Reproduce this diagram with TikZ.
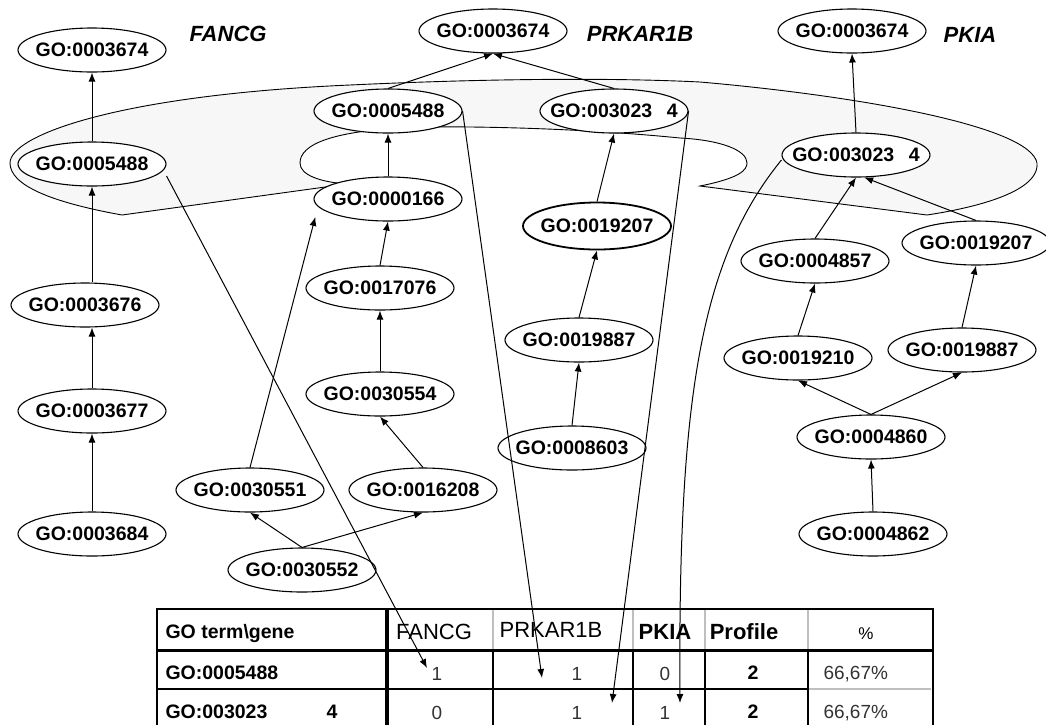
\documentclass[tikz,border=0pt]{standalone}
\usepackage{fontspec}
\setmainfont{Liberation Sans}
\usetikzlibrary{arrows.meta,shapes.geometric,calc}
\begin{document}
\begin{tikzpicture}[x=1pt,y=-1pt,
  go/.style={draw, ellipse, fill=white, line width=1.1pt, minimum width=148pt, minimum height=44pt, inner xsep=-16pt, inner ysep=0pt, font=\fontsize{19.5}{21}\selectfont\bfseries},
  arr/.style={line width=1pt, -{Latex[length=9pt,width=7pt]}},
  gene/.style={font=\fontsize{22}{24}\selectfont\bfseries\itshape},
  thl/.style={anchor=west, font=\fontsize{19.5}{21}\selectfont\bfseries},
  thg/.style={font=\fontsize{22}{24}\selectfont},
  thb/.style={font=\fontsize{22}{24}\selectfont\bfseries},
  cell/.style={font=\fontsize{19}{21}\selectfont, text=black!80},
  cellb/.style={font=\fontsize{19.5}{21}\selectfont\bfseries},
  pct/.style={anchor=west, font=\fontsize{19}{21}\selectfont, text=black!80}
]
\clip (0,0) rectangle (1046,724);

% shaded region
\path[draw, fill=black!3, line width=0.9pt]
  (122,215) .. controls (50,202) and (10,185) .. (10,163)
  .. controls (10,135) and (120,95) .. (350,85)
  .. controls (500,78) and (620,78) .. (700,82)
  .. controls (850,95) and (1030,125) .. (1037,163)
  .. controls (1040,195) and (960,210) .. (927,215)
  -- (700,186)
  .. controls (740,178) and (747,170) .. (747,163)
  .. controls (747,150) and (720,140) .. (680,138)
  .. controls (600,130) and (500,126) .. (420,127)
  .. controls (330,130) and (300,145) .. (300,163)
  .. controls (300,175) and (320,182) .. (347,184)
  -- cycle;

% gene labels
\node[gene] (gf) at (228,34) {FANCG};
\node[gene] (gp) at (640,34) {PRKAR1B};
\node[gene] (gk) at (970,35) {PKIA};

% FANCG
\node[go] (f3674) at (92,50) {GO:0003674};
\node[go] (f5488) at (92,164) {GO:0005488};
\node[go] (f3676) at (85,305) {GO:0003676};
\node[go] (f3677) at (92,411) {GO:0003677};
\node[go] (f3684) at (92,534) {GO:0003684};

% PRKAR1B
\node[go] (p3674) at (493,31) {GO:0003674};
\node[go] (p5488) at (388,111) {GO:0005488};
\node[go] (p0234) at (614,111) {GO:003023\hspace{0.75em}4};
\node[go] (p0166) at (388,199) {GO:0000166};
\node[go, line width=1.8pt, minimum height=47pt] (p9207) at (597,226) {GO:0019207};
\node[go] (p7076) at (380,288) {GO:0017076};
\node[go] (p0554) at (380,394) {GO:0030554};
\node[go] (p0551) at (250,490) {GO:0030551};
\node[go] (p6208) at (423,490) {GO:0016208};
\node[go] (p0552) at (302,570) {GO:0030552};
\node[go] (p9887) at (579,340) {GO:0019887};
\node[go] (p8603) at (572,448) {GO:0008603};

% PKIA
\node[go] (k3674) at (852,31) {GO:0003674};
\node[go] (k0234) at (856,155) {GO:003023\hspace{0.75em}4};
\node[go] (k9207) at (976,243) {GO:0019207};
\node[go] (k4857) at (815,261) {GO:0004857};
\node[go] (k9210) at (798,358) {GO:0019210};
\node[go] (k9887) at (962,350) {GO:0019887};
\node[go] (k4860) at (871,437) {GO:0004860};
\node[go] (k4862) at (873,534) {GO:0004862};

% FANCG edges
\draw[arr] (f3684.north) -- (f3684.north |- f3677.south);
\draw[arr] (f3677.north) -- (f3677.north |- f3676.south);
\draw[arr] (f3677.north |- f3676.north) -- (f3677.north |- f5488.south);
\draw[arr] (f5488.north) -- (f3674.south);

% PRKAR1B edges
\draw[arr] (p5488.north) -- (p3674.south);
\draw[arr] (p0234.north) -- (p3674.south);
\draw[arr] (p0166.north) -- (p5488.south);
\draw[arr] (p7076.north) -- (p0166.south);
\draw[arr] (p0554.north) -- (p7076.south);
\draw[arr] (p6208.north) -- (p0554.south);
\draw[arr] (p0552.north) -- (p0551.south);
\draw[arr] (p0552.north) -- (p6208.south);
\draw[arr] (p0551.north) -- ([shift={(-20pt,-2pt)}]p0166.south west);
\draw[arr] (p9207.north) -- (p0234.south);
\draw[arr] (p9887.north) -- (p9207.south);
\draw[arr] (p8603.north) -- (p9887.south);

% PKIA edges
\draw[arr] (k0234.north) -- (k3674.south);
\draw[arr] (k4857.north) -- (k0234.south);
\draw[arr] (k9207.north) -- (k0234.-70);
\draw[arr] (k9210.north) -- (k4857.south);
\draw[arr] (k9887.north) -- (k9207.south);
\draw[arr] (k4860.north) -- (k9210.south);
\draw[arr] (k4860.north) -- (k9887.south);
\draw[arr] (k4862.north) -- (k4860.south);

% table
\draw[line width=2.2pt] (157,740) -- (157,609) -- (933,609) -- (933,740);
\draw[line width=3pt] (157,650) -- (933,650);
\draw[line width=3.5pt] (387,609) -- (387,740);
\draw[line width=1.2pt] (157,689) -- (808,689);
\draw[line width=1.2pt, black!25] (808,689) -- (931,689);
\foreach \x in {493,633,705,808} {
  \draw[black!25, line width=1.2pt] (\x,610) -- (\x,649);
}
\foreach \x in {493,633,705} {
  \draw[line width=1.3pt] (\x,650) -- (\x,740);
}
\draw[line width=2pt] (808,650) -- (808,740);

\node[thl] (h0) at (162,633) {GO term\textbackslash gene};
\node[thg] (h1) at (434,632) {FANCG};
\node[thg] (h2) at (551,630) {PRKAR1B};
\node[thb] (h3) at (665,632) {PKIA};
\node[thb] (h4) at (744,632) {Profile};
\node[font=\fontsize{17}{19}\selectfont] (h5) at (866,634) {\%};

\node[thl] (r1) at (162,673) {GO:0005488};
\node[cell] (r1a) at (437,674) {1};
\node[cell] (r1b) at (577,674) {1};
\node[cell] (r1c) at (665,674) {0};
\node[cellb] (r1d) at (753,673) {2};
\node[pct] (r1e) at (820,674) {66,67\%};

\node[thl] (r2) at (162,712) {GO:003023};
\node[cellb] (r2x) at (332,712) {4};
\node[cell] (r2a) at (437,713) {0};
\node[cell] (r2b) at (577,713) {1};
\node[cell] (r2c) at (665,713) {1};
\node[cellb] (r2d) at (753,712) {2};
\node[pct] (r2e) at (820,713) {66,67\%};

% long connectors to the table
\coordinate (t1) at (427,668);
\coordinate (t2) at (542,678);
\coordinate (t3) at (612,703);
\coordinate (t4) at (680,703);
\draw[arr] ([yshift=-12pt]f5488.east) -- (t1);
\draw[arr] (p5488.east) -- (t2);
\draw[arr] (p0234.east) -- (t3);
\draw[arr] ([yshift=-5pt]k0234.west) .. controls (700,260) and (678,400) .. (t4);
\end{tikzpicture}
\end{document}
